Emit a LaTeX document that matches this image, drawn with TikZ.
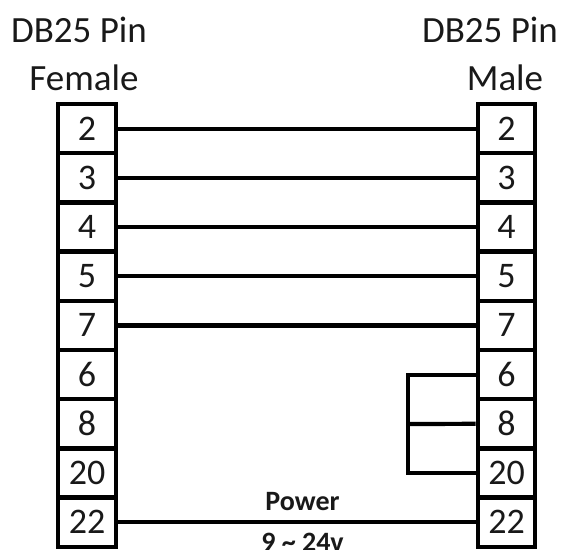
\documentclass[tikz,border=0pt]{standalone}
\usepackage{fontspec}
\setmainfont{Carlito}
\begin{document}
\begin{tikzpicture}[x=1pt,y=-1pt,
  pincell/.style={draw=black,line width=4.4pt,minimum width=57.5pt,minimum height=49.2pt,inner sep=0pt,font=\fontsize{36}{36}\selectfont,text=black!90},
  wire/.style={line width=4.2pt,draw=black},
  heading/.style={inner sep=0pt,font=\fontsize{37}{37}\selectfont,text=black!90},
  powerlabel/.style={inner sep=0pt,anchor=base,font=\bfseries\fontsize{28}{28}\selectfont,text=black!90}]
\useasboundingbox (0,0) rectangle (561,549);
\node[heading] (t1) at (79,30) {DB25 Pin};
\node[heading] (t2) at (84,78) {Female};
\node[heading] (t3) at (490,30) {DB25 Pin};
\node[heading] (t4) at (505,78) {Male};
\foreach \n/\lab [count=\i from 0] in {a/2,b/3,c/4,d/5,e/7,f/6,g/8,h/20,i/22}{
  \node[pincell] (L\n) at (87,128.6+49.2*\i) {\lab};
  \node[pincell] (R\n) at (506.5,128.6+49.2*\i) {\lab};
}
\foreach \n in {a,b,c,d,e,i}{\draw[wire] (L\n.east) -- (R\n.west);}
\coordinate (bus) at (408,424);
\draw[wire,line cap=rect] (Rf.west) -| (bus);
\draw[wire,line cap=rect] (Rh.west) -| (bus);
\draw[wire] (Rg.west) -- (bus);
\node[powerlabel] (p1) at (302.5,510) {Power};
\node[powerlabel] (p2) at (302.5,551) {9 \char`\~{} 24v};
\end{tikzpicture}
\end{document}
